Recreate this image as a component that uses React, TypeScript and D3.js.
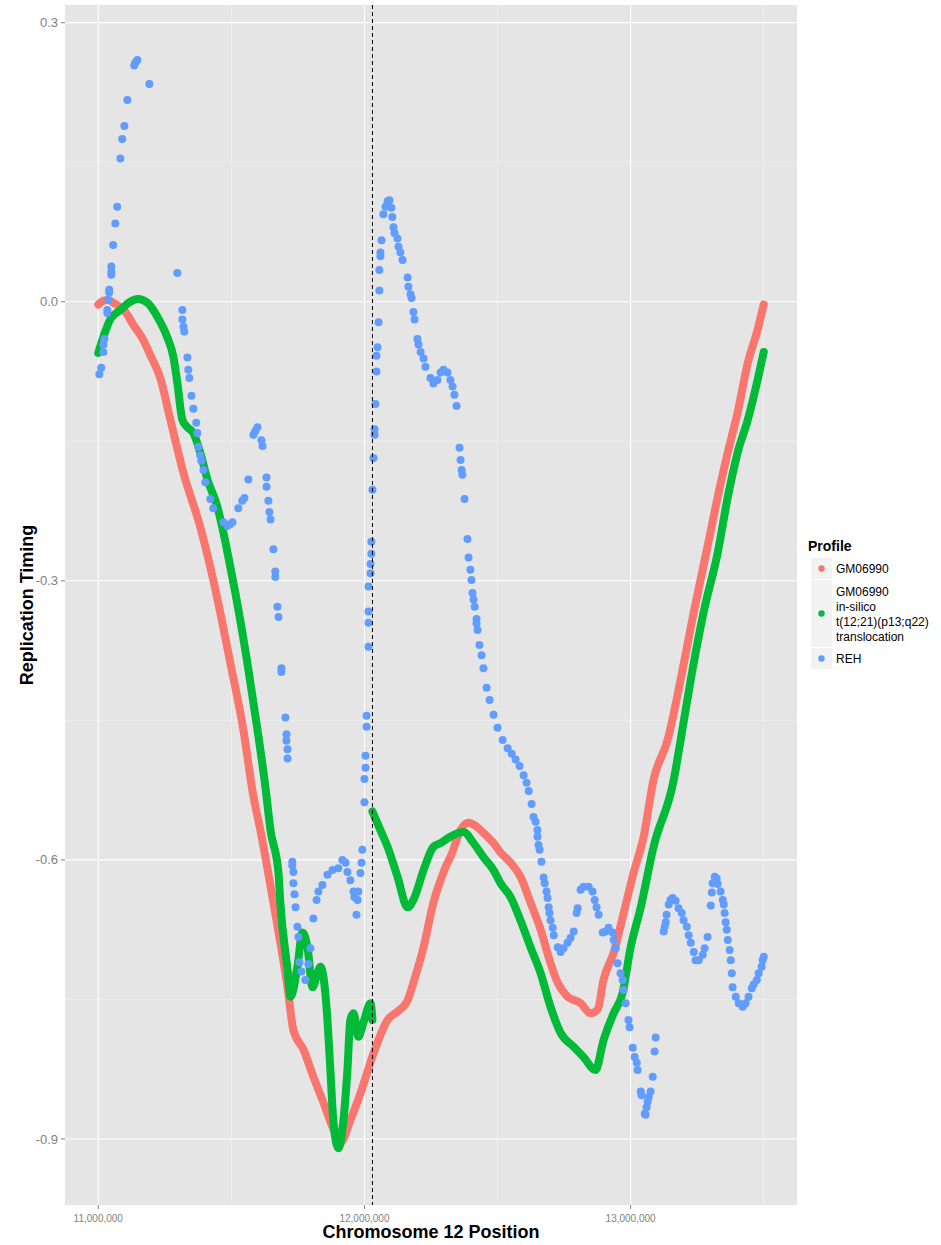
import React from "react";
import * as d3 from "d3";

// positions in kb along chromosome 12, values = replication timing
const gm06990: [number, number][] = [
  [11000, -0.003], [11019, 0.001], [11038, 0.002], [11056, -0.001], [11083, -0.006],
  [11102, -0.011], [11132, -0.025], [11169, -0.041], [11195, -0.057], [11233, -0.082],
  [11271, -0.127], [11320, -0.184], [11383, -0.242], [11432, -0.299], [11496, -0.388],
  [11545, -0.46], [11583, -0.532], [11609, -0.568], [11658, -0.646], [11711, -0.737],
  [11733, -0.783], [11771, -0.804], [11808, -0.833], [11846, -0.861], [11880, -0.887],
  [11910, -0.904], [11947, -0.88], [11985, -0.851], [12034, -0.808], [12087, -0.772],
  [12124, -0.763], [12162, -0.751], [12184, -0.732], [12222, -0.694], [12259, -0.646],
  [12286, -0.622], [12312, -0.603], [12323, -0.597], [12361, -0.568], [12391, -0.56],
  [12425, -0.565], [12447, -0.571], [12485, -0.582], [12511, -0.592], [12549, -0.603],
  [12586, -0.618], [12624, -0.646], [12662, -0.675], [12699, -0.711], [12726, -0.732],
  [12763, -0.747], [12812, -0.754], [12850, -0.765], [12876, -0.761], [12898, -0.729],
  [12936, -0.7], [12974, -0.657], [13011, -0.614], [13049, -0.575], [13086, -0.514],
  [13139, -0.471], [13188, -0.406], [13237, -0.334], [13289, -0.263], [13327, -0.21],
  [13365, -0.162], [13402, -0.119], [13440, -0.066], [13477, -0.03], [13500, -0.003],
];

// in-silico translocation profile, two pieces split at the breakpoint
const inSilicoLeft: [number, number][] = [
  [11000, -0.055], [11019, -0.038], [11045, -0.019], [11083, -0.009], [11120, 0.0],
  [11150, 0.003], [11184, -0.001], [11222, -0.016], [11259, -0.038], [11282, -0.059],
  [11297, -0.087], [11316, -0.127], [11335, -0.135], [11357, -0.141], [11383, -0.162],
  [11410, -0.191], [11447, -0.22], [11470, -0.248], [11496, -0.285], [11515, -0.313],
  [11560, -0.388], [11598, -0.46], [11628, -0.522], [11647, -0.568], [11677, -0.614],
  [11684, -0.646], [11711, -0.718], [11722, -0.747], [11748, -0.715], [11767, -0.678],
  [11786, -0.694], [11805, -0.737], [11823, -0.722], [11835, -0.715], [11846, -0.726],
  [11861, -0.772], [11872, -0.826], [11883, -0.88], [11902, -0.91], [11921, -0.88],
  [11936, -0.826], [11947, -0.772], [11959, -0.765], [11977, -0.79], [11996, -0.775],
  [12023, -0.754], [12030, -0.772],
];
const inSilicoRight: [number, number][] = [
  [12030, -0.548], [12060, -0.568], [12087, -0.586], [12124, -0.618], [12162, -0.651],
  [12184, -0.643], [12222, -0.611], [12259, -0.586], [12286, -0.582], [12323, -0.575],
  [12372, -0.57], [12410, -0.582], [12447, -0.597], [12485, -0.611], [12511, -0.625],
  [12549, -0.64], [12586, -0.665], [12624, -0.694], [12662, -0.722], [12699, -0.758],
  [12737, -0.786], [12786, -0.801], [12823, -0.812], [12868, -0.826], [12898, -0.794],
  [12936, -0.765], [12970, -0.743], [13000, -0.694], [13038, -0.651], [13086, -0.586],
  [13162, -0.514], [13188, -0.471], [13226, -0.406], [13274, -0.334], [13327, -0.27],
  [13365, -0.21], [13402, -0.162], [13440, -0.127], [13477, -0.084], [13500, -0.054],
];

const reh: [number, number][] = [
  [11004, -0.078], [11011, -0.071], [11019, -0.054], [11019, -0.046], [11023, -0.04],
  [11034, -0.012], [11034, -0.009], [11038, 0.002], [11041, 0.01], [11041, 0.013],
  [11049, 0.029], [11049, 0.032], [11049, 0.038], [11056, 0.061], [11064, 0.084],
  [11071, 0.102], [11083, 0.154], [11090, 0.175], [11098, 0.189], [11109, 0.217],
  [11135, 0.254], [11139, 0.257], [11147, 0.26], [11192, 0.234],
  [11297, 0.031], [11316, -0.009], [11316, -0.019], [11320, -0.027], [11323, -0.032],
  [11335, -0.06], [11338, -0.073], [11342, -0.082], [11350, -0.101], [11357, -0.115],
  [11368, -0.13], [11372, -0.141], [11376, -0.156], [11383, -0.165], [11387, -0.171],
  [11395, -0.181], [11402, -0.194], [11421, -0.212], [11432, -0.222], [11470, -0.237],
  [11485, -0.241], [11496, -0.239], [11504, -0.237], [11526, -0.222], [11541, -0.214],
  [11549, -0.211], [11564, -0.191],
  [11583, -0.143], [11590, -0.139], [11598, -0.135], [11613, -0.149], [11617, -0.155],
  [11632, -0.189], [11632, -0.199], [11639, -0.214], [11643, -0.226], [11647, -0.234],
  [11658, -0.266], [11665, -0.29], [11665, -0.296], [11673, -0.328], [11677, -0.339],
  [11688, -0.394], [11688, -0.398], [11703, -0.447], [11707, -0.465], [11707, -0.472],
  [11711, -0.481], [11711, -0.491],
  [11729, -0.602], [11729, -0.606], [11733, -0.613], [11733, -0.625], [11737, -0.637],
  [11741, -0.651], [11748, -0.672], [11752, -0.683], [11756, -0.71], [11763, -0.72],
  [11778, -0.729], [11789, -0.712], [11797, -0.695], [11808, -0.663], [11820, -0.643],
  [11827, -0.634], [11842, -0.627], [11861, -0.616], [11880, -0.611], [11902, -0.609],
  [11917, -0.6], [11929, -0.603], [11936, -0.613], [11947, -0.622], [11959, -0.634],
  [11962, -0.64], [11974, -0.643], [11970, -0.659], [11977, -0.634], [11985, -0.614],
  [11989, -0.603], [11992, -0.589],
  [12000, -0.538], [12000, -0.513], [12004, -0.501], [12004, -0.488], [12008, -0.457],
  [12008, -0.445], [12015, -0.371], [12015, -0.345], [12015, -0.333], [12015, -0.306],
  [12023, -0.292], [12023, -0.282], [12026, -0.271], [12026, -0.258], [12030, -0.202],
  [12034, -0.168], [12038, -0.143], [12038, -0.137], [12041, -0.11], [12045, -0.075],
  [12045, -0.058], [12049, -0.049], [12053, -0.022], [12056, 0.012], [12056, 0.034],
  [12060, 0.049], [12060, 0.053], [12064, 0.066],
  [12071, 0.094], [12079, 0.102], [12087, 0.108], [12094, 0.109], [12101, 0.101],
  [12105, 0.091], [12109, 0.08], [12113, 0.074], [12124, 0.068], [12128, 0.059],
  [12135, 0.053], [12143, 0.045], [12162, 0.026], [12165, 0.016], [12173, 0.008],
  [12177, 0.004], [12184, -0.011], [12188, -0.019], [12199, -0.04], [12203, -0.046],
  [12211, -0.054], [12222, -0.061], [12229, -0.07], [12248, -0.082], [12259, -0.088],
  [12274, -0.084], [12286, -0.076], [12297, -0.073], [12312, -0.076], [12323, -0.084],
  [12331, -0.091], [12338, -0.1], [12346, -0.112], [12357, -0.157], [12361, -0.17],
  [12365, -0.181], [12368, -0.186], [12376, -0.212], [12387, -0.255], [12391, -0.275],
  [12398, -0.288], [12402, -0.299], [12406, -0.313], [12410, -0.32], [12414, -0.328],
  [12421, -0.341], [12421, -0.346], [12425, -0.353],
  [12432, -0.369], [12440, -0.38], [12447, -0.394], [12459, -0.415], [12470, -0.428],
  [12485, -0.444], [12500, -0.458], [12519, -0.471], [12538, -0.48], [12553, -0.486],
  [12568, -0.492], [12583, -0.499], [12598, -0.509], [12609, -0.517],
  [12617, -0.526], [12628, -0.54], [12635, -0.554], [12643, -0.559], [12650, -0.568],
  [12650, -0.575], [12654, -0.584], [12658, -0.589], [12665, -0.602], [12673, -0.619],
  [12677, -0.625], [12684, -0.634], [12688, -0.641], [12692, -0.651], [12695, -0.657],
  [12699, -0.665], [12707, -0.673], [12711, -0.681], [12726, -0.694], [12737, -0.699],
  [12748, -0.695], [12763, -0.689], [12774, -0.684], [12786, -0.677], [12797, -0.657],
  [12801, -0.652], [12812, -0.632], [12823, -0.629], [12842, -0.629], [12857, -0.634],
  [12865, -0.643], [12872, -0.651], [12880, -0.659], [12895, -0.678], [12906, -0.677],
  [12917, -0.673], [12932, -0.678], [12936, -0.686], [12944, -0.695], [12951, -0.711],
  [12962, -0.722], [12970, -0.729], [12974, -0.74], [12981, -0.754], [12992, -0.772],
  [12996, -0.78], [13008, -0.802], [13015, -0.812], [13023, -0.818], [13026, -0.826],
  [13038, -0.849], [13041, -0.853], [13053, -0.873], [13056, -0.874], [13060, -0.866],
  [13064, -0.86], [13068, -0.855], [13075, -0.849], [13083, -0.833], [13090, -0.806],
  [13094, -0.791],
  [13124, -0.677], [13128, -0.672], [13132, -0.667], [13135, -0.659], [13143, -0.648],
  [13150, -0.643], [13158, -0.641], [13169, -0.644], [13180, -0.652], [13192, -0.657],
  [13199, -0.665], [13211, -0.672], [13218, -0.681], [13226, -0.689], [13237, -0.699],
  [13244, -0.708], [13256, -0.708], [13271, -0.702], [13278, -0.695], [13289, -0.683],
  [13301, -0.649], [13305, -0.635], [13308, -0.625], [13316, -0.618], [13323, -0.62],
  [13327, -0.626], [13338, -0.634], [13346, -0.643], [13350, -0.648], [13353, -0.657],
  [13357, -0.667], [13361, -0.675], [13365, -0.686], [13372, -0.697], [13376, -0.708],
  [13380, -0.722], [13383, -0.737], [13395, -0.747], [13406, -0.754], [13421, -0.758],
  [13432, -0.754], [13443, -0.747], [13455, -0.738], [13462, -0.734], [13474, -0.729],
  [13481, -0.722], [13492, -0.715], [13496, -0.708], [13500, -0.704],
];

const breakpointKb = 12030;
const xMajor = [11000, 12000, 13000];
const xMinor = [11500, 12500, 13500];
const yMajor = [0.3, 0.0, -0.3, -0.6, -0.9];
const yMinor = [0.15, -0.15, -0.45, -0.75];

const legendItems = [
  { label: ["GM06990"], color: "#F8766D" },
  { label: ["GM06990", "in-silico", "t(12;21)(p13;q22)", "translocation"], color: "#00BA38" },
  { label: ["REH"], color: "#619CFF" },
];

const W = 941;
const H = 1245;
const panel = { left: 65, right: 797, top: 5, bottom: 1205 };
const font = "'Liberation Sans', Arial, Helvetica, sans-serif";

export default function App() {
  const x = d3.scaleLinear().domain([10875, 13625]).range([panel.left, panel.right]);
  const y = d3.scaleLinear().domain([-0.971, 0.319]).range([panel.bottom, panel.top]);
  const line = d3
    .line<[number, number]>()
    .x((d) => x(d[0]))
    .y((d) => y(d[1]))
    .curve(d3.curveMonotoneX);
  const fmt = d3.format(",");

  // legend key heights grow with line count
  let ly = 558;
  const keys = legendItems.map((it) => {
    const h = it.label.length > 1 ? 67 : 21;
    const k = { ...it, y0: ly, h };
    ly += h + 1;
    return k;
  });

  return (
    <svg
      width={W}
      height={H}
      style={{ position: "absolute", left: 0, top: 0, background: "#fff" }}
      fontFamily={font}
    >
      <rect
        x={panel.left}
        y={panel.top}
        width={panel.right - panel.left}
        height={panel.bottom - panel.top}
        fill="#E5E5E5"
      />
      {xMinor.map((v) => (
        <line key={"xm" + v} x1={x(v)} x2={x(v)} y1={panel.top} y2={panel.bottom} stroke="#F2F2F2" strokeWidth={0.6} />
      ))}
      {yMinor.map((v) => (
        <line key={"ym" + v} x1={panel.left} x2={panel.right} y1={y(v)} y2={y(v)} stroke="#F2F2F2" strokeWidth={0.6} />
      ))}
      {xMajor.map((v) => (
        <line key={"xM" + v} x1={x(v)} x2={x(v)} y1={panel.top} y2={panel.bottom} stroke="#fff" strokeWidth={1.1} />
      ))}
      {yMajor.map((v) => (
        <line key={"yM" + v} x1={panel.left} x2={panel.right} y1={y(v)} y2={y(v)} stroke="#fff" strokeWidth={1.1} />
      ))}

      <path d={line(gm06990) || ""} fill="none" stroke="#F8766D" strokeWidth={8} strokeLinecap="round" strokeLinejoin="round" />
      {[inSilicoLeft, inSilicoRight].map((seg, i) => (
        <path key={"g" + i} d={line(seg) || ""} fill="none" stroke="#00BA38" strokeWidth={8} strokeLinecap="round" strokeLinejoin="round" />
      ))}
      {reh.map((d, i) => (
        <circle key={"b" + i} cx={x(d[0])} cy={y(d[1])} r={4} fill="#619CFF" />
      ))}

      <line
        x1={x(breakpointKb)}
        x2={x(breakpointKb)}
        y1={panel.top}
        y2={panel.bottom}
        stroke="#000"
        strokeWidth={1}
        strokeDasharray="4,3"
      />

      {/* axes */}
      {yMajor.map((v) => (
        <g key={"yt" + v}>
          <line x1={panel.left - 4} x2={panel.left} y1={y(v)} y2={y(v)} stroke="#7F7F7F" strokeWidth={1} />
          <text x={panel.left - 7} y={y(v)} dy="0.35em" textAnchor="end" fontSize={13} fill="#7F7F7F">
            {d3.format(".1f")(v).replace("−", "-")}
          </text>
        </g>
      ))}
      {xMajor.map((v) => (
        <g key={"xt" + v}>
          <line x1={x(v)} x2={x(v)} y1={panel.bottom} y2={panel.bottom + 4} stroke="#7F7F7F" strokeWidth={1} />
          <text x={x(v)} y={panel.bottom + 17} textAnchor="middle" fontSize={10} fill="#7F7F7F">
            {fmt(v * 1000)}
          </text>
        </g>
      ))}
      <text x={(panel.left + panel.right) / 2} y={1238} textAnchor="middle" fontSize={18} fontWeight="bold">
        Chromosome 12 Position
      </text>
      <text
        transform={`translate(33,${(panel.top + panel.bottom) / 2}) rotate(-90)`}
        textAnchor="middle"
        fontSize={18}
        fontWeight="bold"
      >
        Replication Timing
      </text>

      {/* legend */}
      <text x={808} y={551} fontSize={14} fontWeight="bold">
        Profile
      </text>
      {keys.map((k) => (
        <g key={k.label.join("")}>
          <rect x={811} y={k.y0} width={21} height={k.h} fill="#F2F2F2" />
          <circle cx={821.5} cy={k.y0 + k.h / 2} r={3.2} fill={k.color} />
          {k.label.map((t, j) => (
            <text
              key={t + j}
              x={836}
              y={k.y0 + k.h / 2 + 4.5 + (j - (k.label.length - 1) / 2) * 15}
              fontSize={12}
            >
              {t}
            </text>
          ))}
        </g>
      ))}
    </svg>
  );
}
